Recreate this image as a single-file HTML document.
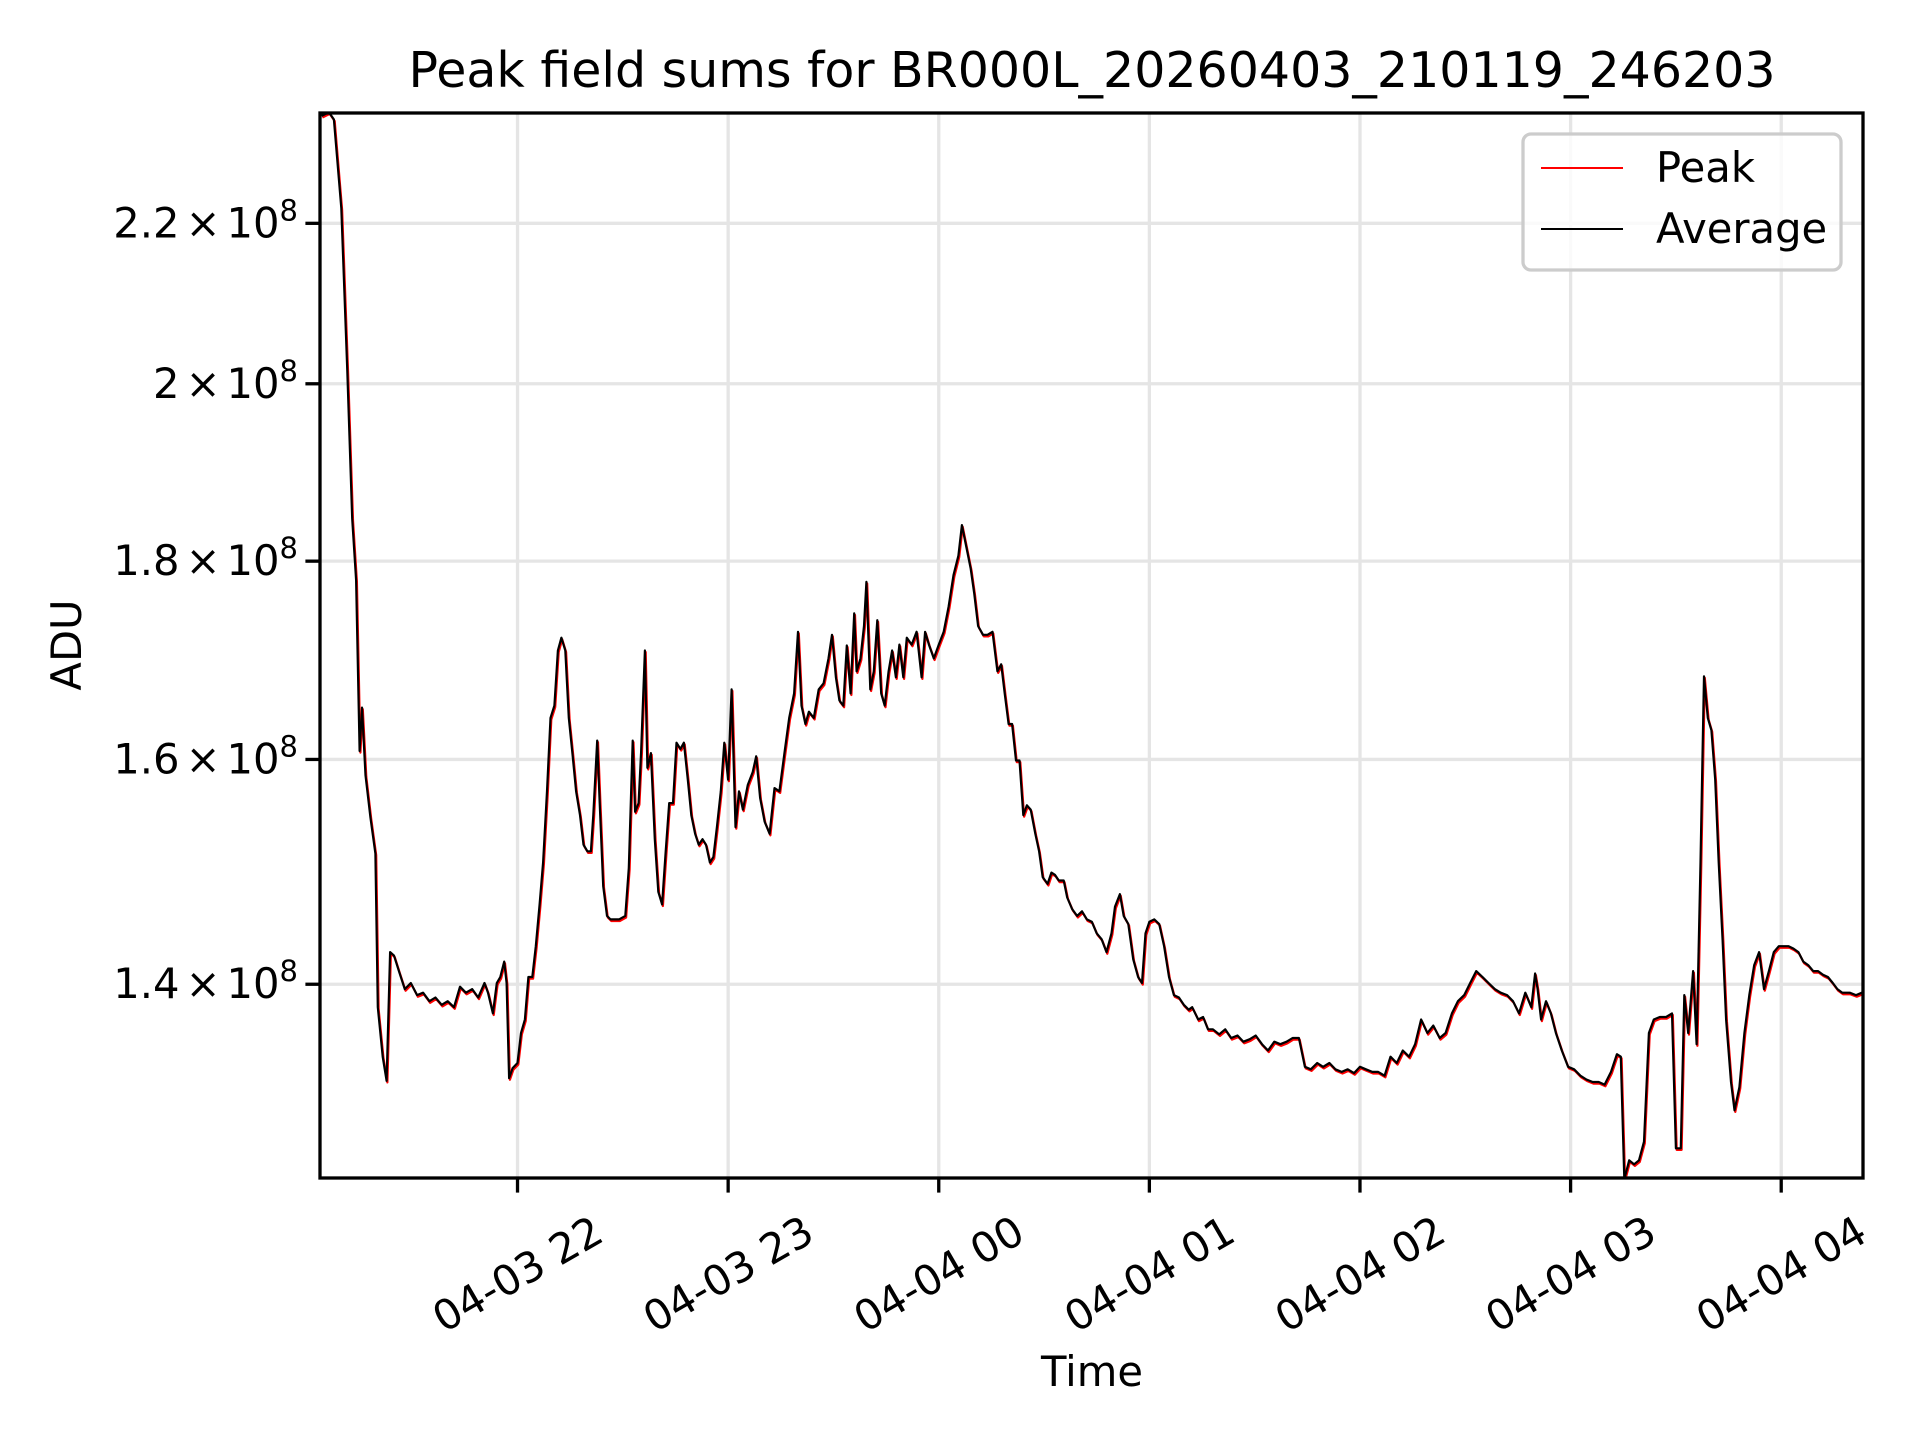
<!DOCTYPE html>
<html><head><meta charset="utf-8"><style>
html,body{margin:0;padding:0;background:#fff;}
svg{display:block;font-family:"DejaVu Sans","Liberation Sans",sans-serif;}
</style></head><body>
<svg id="chart" width="1920" height="1440" viewBox="0 0 1920 1440">
<defs><clipPath id="plotclip"><rect x="320" y="113" width="1543" height="1065"/></clipPath></defs>
<rect width="1920" height="1440" fill="#fff"/>
<text x="1092" y="87" font-size="49" text-anchor="middle">Peak field sums for BR000L_20260403_210119_246203</text>
<g id="grid"></g>
<g id="series" clip-path="url(#plotclip)"></g>
<rect x="320" y="113" width="1543" height="1065" fill="none" stroke="#000" stroke-width="3.3"/>
<g id="axes"></g>
<text x="1092" y="1386" font-size="41.7" text-anchor="middle">Time</text>
<text transform="translate(81,645) rotate(-90)" font-size="41.7" text-anchor="middle">ADU</text>
<g>
<rect x="1523" y="134" width="318" height="136" rx="8" fill="#fff" fill-opacity="0.8" stroke="#ccc" stroke-width="3.3"/>
<line x1="1541" y1="168" x2="1623" y2="168" stroke="#f00" stroke-width="2"/>
<text x="1656" y="182" font-size="41.7">Peak</text>
<line x1="1541" y1="229" x2="1623" y2="229" stroke="#000" stroke-width="2"/>
<text x="1656" y="243" font-size="41.7">Average</text>
</g>
</svg>
<script>
// minutes since 04-03 21:00
const timeMinutes = [4.2,6.3,7.7,9.8,11.5,12.9,14.0,15.0,15.7,16.7,18.1,19.5,20.2,21.6,22.7,23.7,24.8,26.2,27.9,29.6,31.4,33.1,34.9,36.6,38.4,40.1,41.9,43.6,45.3,47.1,48.8,50.6,51.6,53.0,54.1,55.1,56.2,56.9,57.6,58.6,60.0,61.0,62.1,63.1,64.2,65.2,66.3,67.3,68.4,69.4,70.5,71.5,72.5,73.6,74.6,75.7,76.7,77.8,78.8,79.9,80.9,81.6,82.7,83.4,84.4,85.5,86.5,88.9,90.7,91.7,92.8,93.5,94.5,95.2,96.3,97.0,98.0,99.1,100.1,101.2,102.2,103.2,104.3,105.3,106.4,107.4,108.5,109.5,110.6,111.6,112.7,113.7,114.8,115.8,116.8,117.9,118.9,120.0,121.0,122.1,123.1,124.2,125.6,127.0,128.0,129.1,130.4,131.8,133.2,134.6,136.0,137.4,138.8,139.9,140.9,142.0,143.0,144.4,145.8,147.2,148.6,149.6,150.7,151.7,152.8,153.8,154.9,155.9,156.6,157.7,158.7,159.4,160.5,161.5,162.5,163.6,164.6,165.7,166.7,167.8,168.8,169.9,170.9,172.3,173.7,175.1,176.1,177.2,178.6,180.0,181.4,182.8,184.2,185.6,186.6,187.7,189.1,190.1,191.2,192.6,193.9,195.3,196.7,197.8,198.8,199.9,200.9,202.0,203.0,204.1,205.1,206.2,207.5,208.6,209.6,211.0,212.1,213.1,214.2,215.6,216.6,218.0,219.4,220.8,222.2,223.6,225.0,226.4,227.8,229.2,230.2,231.6,232.7,234.0,235.4,236.8,237.9,238.9,240.0,241.4,242.8,244.2,245.6,247.0,248.4,249.8,251.2,252.2,253.9,255.3,256.7,258.1,259.9,261.6,263.3,265.1,266.8,268.6,270.3,272.1,273.8,275.6,277.3,279.1,280.8,282.6,284.3,286.0,287.8,289.5,291.3,293.0,294.8,296.5,298.3,300.0,301.7,303.5,305.2,307.0,308.7,310.5,312.2,314.0,315.7,317.4,319.2,320.9,322.7,324.4,326.2,327.9,329.7,331.4,333.1,334.9,336.6,338.4,340.1,341.9,343.6,345.3,347.1,348.8,349.9,350.6,351.6,353.0,354.4,355.8,357.5,359.3,361.0,362.8,364.5,366.3,368.0,369.7,371.5,373.2,374.3,375.3,376.7,378.1,379.5,380.9,382.3,383.7,385.4,387.2,388.9,390.0,391.4,392.4,393.5,394.9,395.9,397.0,398.0,399.1,400.1,401.2,402.2,403.3,404.3,405.7,406.7,408.1,409.5,410.9,412.3,413.7,415.1,416.5,417.9,419.3,420.7,422.1,423.5,424.9,426.3,427.7,429.1,430.5,431.9,433.3,434.7,436.0,437.4,439.5,441.3,443.0];
// values in units of 1e8 ADU
const averageValues = [2.345,2.35,2.34,2.22,2.015,1.846,1.78,1.608,1.65,1.585,1.546,1.513,1.381,1.341,1.322,1.427,1.424,1.411,1.396,1.401,1.391,1.393,1.386,1.389,1.383,1.386,1.381,1.398,1.393,1.396,1.389,1.401,1.393,1.376,1.401,1.406,1.419,1.401,1.324,1.332,1.336,1.360,1.371,1.406,1.406,1.432,1.468,1.505,1.570,1.640,1.652,1.707,1.720,1.707,1.640,1.604,1.570,1.548,1.521,1.515,1.515,1.548,1.618,1.559,1.484,1.458,1.455,1.455,1.458,1.500,1.618,1.551,1.559,1.607,1.707,1.592,1.606,1.526,1.479,1.468,1.515,1.559,1.559,1.616,1.610,1.616,1.581,1.548,1.531,1.521,1.526,1.521,1.505,1.510,1.537,1.570,1.616,1.581,1.668,1.537,1.570,1.553,1.576,1.588,1.603,1.564,1.542,1.531,1.573,1.570,1.605,1.640,1.664,1.726,1.652,1.634,1.646,1.640,1.668,1.674,1.699,1.723,1.680,1.657,1.652,1.712,1.664,1.745,1.686,1.699,1.732,1.778,1.668,1.686,1.738,1.664,1.652,1.686,1.707,1.680,1.713,1.680,1.720,1.713,1.726,1.680,1.726,1.713,1.699,1.713,1.726,1.752,1.785,1.806,1.839,1.818,1.792,1.766,1.732,1.723,1.723,1.726,1.686,1.693,1.664,1.634,1.634,1.599,1.599,1.548,1.557,1.553,1.531,1.515,1.492,1.486,1.496,1.494,1.489,1.489,1.474,1.464,1.458,1.462,1.455,1.453,1.443,1.438,1.427,1.443,1.466,1.477,1.458,1.451,1.421,1.406,1.401,1.443,1.453,1.455,1.451,1.432,1.406,1.391,1.389,1.383,1.379,1.381,1.371,1.373,1.363,1.363,1.359,1.363,1.356,1.358,1.353,1.355,1.358,1.351,1.346,1.353,1.351,1.353,1.356,1.356,1.333,1.331,1.336,1.333,1.336,1.331,1.329,1.331,1.328,1.333,1.331,1.329,1.329,1.326,1.341,1.336,1.346,1.341,1.351,1.371,1.360,1.366,1.356,1.360,1.376,1.386,1.391,1.401,1.411,1.406,1.401,1.396,1.393,1.391,1.386,1.376,1.393,1.381,1.409,1.396,1.371,1.386,1.376,1.360,1.346,1.333,1.331,1.326,1.323,1.321,1.321,1.319,1.329,1.343,1.341,1.247,1.261,1.258,1.261,1.275,1.360,1.371,1.373,1.373,1.376,1.270,1.270,1.391,1.360,1.411,1.351,1.505,1.681,1.640,1.628,1.581,1.505,1.437,1.371,1.321,1.299,1.317,1.360,1.391,1.416,1.427,1.396,1.411,1.427,1.432,1.432,1.432,1.430,1.427,1.419,1.416,1.411,1.411,1.408,1.406,1.401,1.396,1.393,1.393,1.391,1.393];
const peakValues = averageValues.slice();
const yTickValues = [2.2,2.0,1.8,1.6,1.4];
const yTickMantissas = ["2.2","2","1.8","1.6","1.4"];
const xTickMinutes = [60,120,180,240,300,360,420];
const xTickLabels = ["04-03 22","04-03 23","04-04 00","04-04 01","04-04 02","04-04 03","04-04 04"];

const L=320,R=1863,T=113,B=1178;
const xMin=3.73, xMax=443.3, yMin=1.2478, yMax=2.349;
const NS="http://www.w3.org/2000/svg";
function xs(t){return L+(t-xMin)/(xMax-xMin)*(R-L);}
function ys(v){return T+(Math.log(yMax)-Math.log(v))/(Math.log(yMax)-Math.log(yMin))*(B-T);}
function mk(tag,attrs,parent){const e=document.createElementNS(NS,tag);for(const k in attrs)e.setAttribute(k,attrs[k]);parent.appendChild(e);return e;}
const grid=document.getElementById('grid'),axes=document.getElementById('axes'),series=document.getElementById('series');

xTickMinutes.forEach((m,i)=>{
  const x=xs(m);
  const g=mk('line',{x1:x,x2:x,y1:T,y2:B,stroke:'#e5e5e5','stroke-width':3.3},grid);
  
  
  const t=mk('line',{x1:x,x2:x,y1:B,y2:B+14.6,stroke:'#000','stroke-width':3.3},axes);
  
  
  const lb=mk('text',{transform:`translate(${x},${B+96}) rotate(-30)`,'text-anchor':'middle','dominant-baseline':'central','font-size':41.7},axes);
  lb.textContent=xTickLabels[i];
  
  
});
yTickValues.forEach((v,i)=>{
  const y=ys(v);
  const g=mk('line',{x1:L,x2:R,y1:y,y2:y,stroke:'#e5e5e5','stroke-width':3.3},grid);
  
  
  const t=mk('line',{x1:L-14.6,x2:L,y1:y,y2:y,stroke:'#000','stroke-width':3.3},axes);
  
  
  const lb=mk('text',{x:L-22,y:y+14,'text-anchor':'end','font-size':41.7},axes);
  
  
  const a=document.createElementNS(NS,'tspan');a.textContent=yTickMantissas[i];lb.appendChild(a);
  const xm=document.createElementNS(NS,'tspan');xm.setAttribute('dx','6');xm.textContent="\u00d7";lb.appendChild(xm);
  const te=document.createElementNS(NS,'tspan');te.setAttribute('dx','6');te.textContent="10";lb.appendChild(te);
  const s=document.createElementNS(NS,'tspan');s.setAttribute('dy','-17');s.setAttribute('font-size','29');s.textContent='8';lb.appendChild(s);
});
function pathFor(vals){return vals.map((v,i)=>(i?'L':'M')+xs(timeMinutes[i]).toFixed(1)+','+ys(v).toFixed(1)).join(' ');}
const pk=mk('path',{d:pathFor(peakValues),fill:'none',stroke:'#f00','stroke-width':2.2,'stroke-linejoin':'round',transform:'translate(0.8,1.6)'},series);


const av=mk('path',{d:pathFor(averageValues),fill:'none',stroke:'#000','stroke-width':2.2,'stroke-linejoin':'round'},series);


</script>
</body></html>
